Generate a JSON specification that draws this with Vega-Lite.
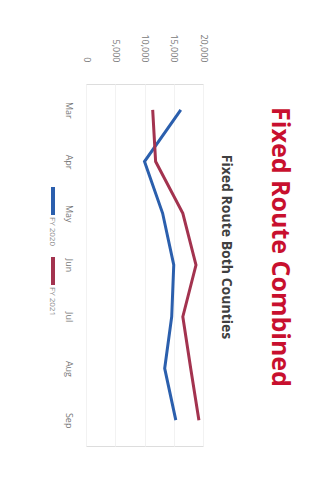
{
  "$schema": "https://vega.github.io/schema/vega-lite/v6.json",
  "width": 117,
  "height": 362,
  "autosize": "none",
  "padding": {"left": 86, "top": 84, "right": 117, "bottom": 53},
  "background": "white",
  "title": {
    "text": "Fixed Route Combined",
    "subtitle": "Fixed Route Both Counties",
    "orient": "right",
    "anchor": "middle",
    "color": "#c8102e",
    "fontSize": 25,
    "font": "Open Sans",
    "fontWeight": "bold",
    "subtitleColor": "#404040",
    "subtitleFont": "Open Sans",
    "subtitleFontWeight": "bold",
    "subtitleFontSize": 14,
    "subtitlePadding": 34,
    "offset": 12,
    "dx": -18
  },
  "data": {
    "values": [
      {"idx": 1, "month": "Mar", "series": "FY 2020", "riders": 16200},
      {"idx": 2, "month": "Apr", "series": "FY 2020", "riders": 10000},
      {"idx": 3, "month": "May", "series": "FY 2020", "riders": 13100},
      {"idx": 4, "month": "Jun", "series": "FY 2020", "riders": 15000},
      {"idx": 5, "month": "Jul", "series": "FY 2020", "riders": 14650},
      {"idx": 6, "month": "Aug", "series": "FY 2020", "riders": 13450},
      {"idx": 7, "month": "Sep", "series": "FY 2020", "riders": 15350},
      {"idx": 1, "month": "Mar", "series": "FY 2021", "riders": 11400},
      {"idx": 2, "month": "Apr", "series": "FY 2021", "riders": 11900},
      {"idx": 3, "month": "May", "series": "FY 2021", "riders": 16550},
      {"idx": 4, "month": "Jun", "series": "FY 2021", "riders": 18800},
      {"idx": 5, "month": "Jul", "series": "FY 2021", "riders": 16550},
      {"idx": 6, "month": "Aug", "series": "FY 2021", "riders": 17900},
      {"idx": 7, "month": "Sep", "series": "FY 2021", "riders": 19300}
    ]
  },
  "mark": {"type": "line", "strokeWidth": 3},
  "encoding": {
    "y": {
      "field": "month",
      "type": "ordinal",
      "sort": ["Mar", "Apr", "May", "Jun", "Jul", "Aug", "Sep"],
      "axis": {
        "labelAngle": 90,
        "ticks": false,
        "domain": false,
        "labelPadding": 14,
        "title": null,
        "labelColor": "#777777",
        "labelFontSize": 9,
        "labelFont": "Open Sans"
      }
    },
    "x": {
      "field": "riders",
      "type": "quantitative",
      "scale": {"domain": [0, 20000]},
      "axis": {
        "orient": "top",
        "labelAngle": 90,
        "format": ",.0f",
        "values": [0, 5000, 10000, 15000, 20000],
        "ticks": false,
        "domain": false,
        "grid": true,
        "gridColor": "#f2f2f2",
        "labelPadding": 22,
        "title": null,
        "labelColor": "#777777",
        "labelFontSize": 9,
        "labelFont": "Open Sans"
      }
    },
    "color": {
      "field": "series",
      "type": "nominal",
      "scale": {"range": ["#2b5fad", "#a3334f"]},
      "legend": {
        "orient": "none",
        "legendX": -49,
        "legendY": 101,
        "direction": "vertical",
        "title": null,
        "symbolType": "M0,-1L0,1",
        "symbolSize": 784,
        "symbolStrokeWidth": 4,
        "labelOffset": -14,
        "labelFontSize": 8,
        "labelColor": "#888888",
        "labelFont": "Open Sans",
        "rowPadding": 3,
        "encode": {
          "labels": {
            "update": {
              "angle": {"value": 90},
              "align": {"value": "left"},
              "baseline": {"value": "middle"},
              "dx": {"value": 16},
              "dy": {"value": 3}
            }
          }
        }
      }
    },
    "order": {"field": "idx"}
  }
}
